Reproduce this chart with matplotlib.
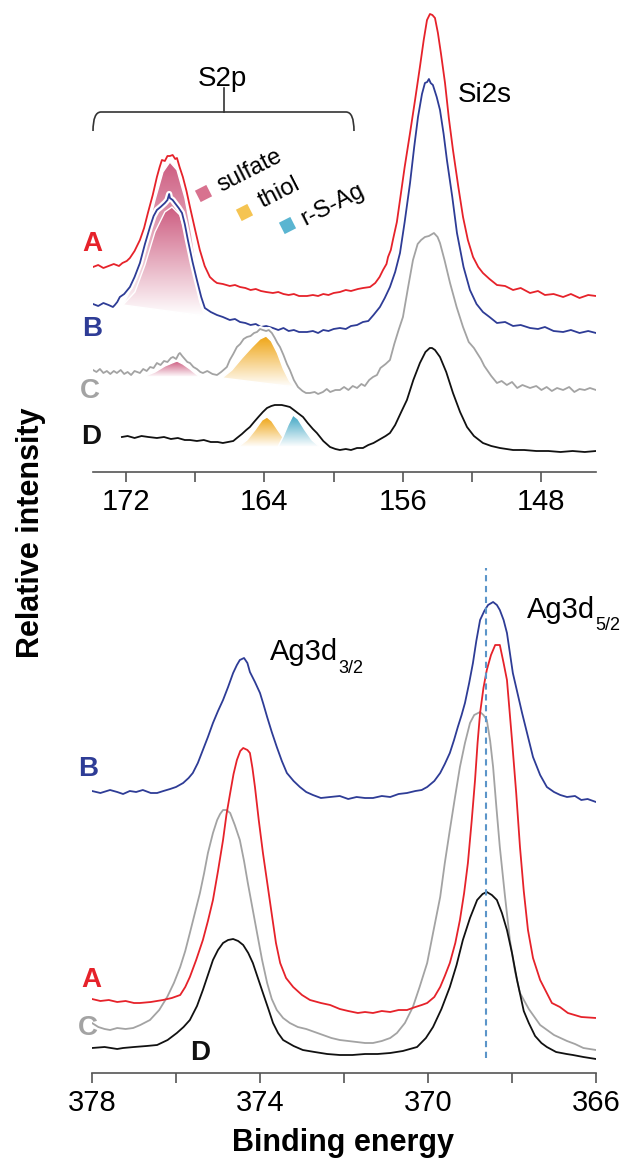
import numpy as np
import matplotlib
matplotlib.use('Agg')
import matplotlib.pyplot as plt
import matplotlib.patheffects as pe
from matplotlib.colors import LinearSegmentedColormap
from matplotlib.patches import Polygon, PathPatch
from matplotlib.path import Path

plt.rcParams['font.family'] = ['Liberation Sans', 'DejaVu Sans']

# ---- top panel: S2p / Si2s region, (binding energy, intensity) ----
top_A = [(173.9, 205), (173.6, 207), (173.3, 204), (173.0, 206), (172.7, 208), (172.4, 206), (172.2, 209),
         (171.95, 211), (171.77, 214), (171.5, 221), (171.19, 232), (170.95, 244), (170.73, 259), (170.45, 277),
         (170.21, 295), (170.05, 305), (169.92, 312), (169.75, 311), (169.6, 316), (169.46, 316), (169.3, 317),
         (169.15, 313), (169.05, 314), (168.9, 305), (168.71, 295), (168.5, 281), (168.3, 265), (168.0, 242),
         (167.73, 222), (167.45, 206), (167.15, 195), (166.9, 191), (166.74, 189), (166.4, 188), (166.0, 186),
         (165.7, 187), (165.41, 185), (165.1, 184), (164.8, 182), (164.5, 183), (164.2, 181), (163.9, 180),
         (163.51, 179), (163.2, 180), (162.9, 178), (162.6, 177), (162.3, 178), (162.0, 176), (161.54, 176),
         (161.2, 177), (160.9, 176), (160.6, 178), (160.3, 177), (160.0, 179), (159.64, 180), (159.3, 182),
         (159.0, 181), (158.6, 183), (158.3, 184), (157.9, 185), (157.6, 189), (157.35, 195), (157.15, 202),
         (156.95, 208), (156.86, 215), (156.7, 222), (156.58, 232), (156.35, 250), (156.17, 272), (155.9, 305),
         (155.59, 339), (155.3, 372), (155.02, 405), (154.8, 432), (154.61, 452), (154.44, 458), (154.3, 457),
         (154.15, 454), (153.98, 439), (153.8, 418), (153.57, 389), (153.35, 354), (153.11, 322), (152.8, 285),
         (152.53, 255), (152.25, 232), (151.95, 215), (151.65, 205), (151.38, 199), (151.0, 193), (150.57, 187),
         (150.1, 186), (149.64, 182), (149.2, 184), (148.66, 179), (148.2, 181), (147.8, 177), (147.3, 178),
         (146.75, 175), (146.3, 178), (145.8, 174), (145.3, 177), (144.85, 176)]

top_B = [(173.9, 168), (173.6, 166), (173.3, 169), (173.0, 167), (172.75, 165), (172.64, 167), (172.5, 170),
         (172.35, 175), (172.1, 178), (171.77, 185), (171.5, 195), (171.19, 209), (170.9, 228), (170.61, 245),
         (170.4, 256), (170.21, 262), (170.0, 265), (169.75, 269), (169.6, 272), (169.5, 278), (169.46, 274),
         (169.3, 272), (169.17, 269), (168.95, 264), (168.76, 259), (168.6, 248), (168.42, 232), (168.15, 210),
         (167.9, 192), (167.65, 175), (167.44, 164), (167.1, 160), (166.74, 157), (166.4, 155), (166.0, 152),
         (165.7, 153), (165.41, 150), (165.1, 149), (164.8, 147), (164.5, 148), (164.2, 145), (163.9, 146),
         (163.51, 144), (163.2, 142), (162.9, 144), (162.6, 141), (162.3, 142), (162.0, 140), (161.54, 140),
         (161.2, 141), (160.9, 139), (160.6, 142), (160.3, 141), (160.0, 143), (159.64, 144), (159.3, 143),
         (159.0, 146), (158.65, 147), (158.31, 150), (158.0, 151), (157.7, 157), (157.33, 165), (157.05, 174),
         (156.75, 185), (156.45, 200), (156.17, 219), (155.9, 250), (155.59, 289), (155.35, 325), (155.13, 355),
         (154.9, 378), (154.73, 389), (154.6, 390), (154.5, 393), (154.4, 389), (154.27, 387), (154.05, 375),
         (153.86, 362), (153.65, 338), (153.46, 312), (153.15, 275), (152.88, 239), (152.5, 205), (152.13, 182),
         (151.75, 168), (151.38, 160), (151.0, 155), (150.57, 149), (150.1, 150), (149.64, 146), (149.2, 147),
         (148.66, 144), (148.2, 143), (147.8, 145), (147.3, 141), (146.75, 140), (146.3, 142), (145.8, 139),
         (145.3, 141), (144.85, 139)]

top_C = [(173.9, 102), (173.7, 100), (173.5, 103), (173.3, 99), (173.1, 101), (172.9, 98), (172.7, 101),
         (172.52, 99), (172.3, 102), (172.1, 98), (171.9, 100), (171.7, 97), (171.5, 101), (171.19, 99),
         (171.0, 103), (170.8, 101), (170.6, 105), (170.4, 104), (170.21, 109), (170.0, 107), (169.8, 111),
         (169.6, 110), (169.4, 114), (169.28, 115), (169.1, 113), (168.95, 118), (168.88, 119), (168.75, 116),
         (168.6, 113), (168.45, 110), (168.3, 109), (168.1, 105), (167.9, 103), (167.7, 100), (167.55, 99),
         (167.3, 101), (167.0, 98), (166.74, 97), (166.5, 100), (166.3, 103), (166.17, 105), (166.0, 112),
         (165.8, 118), (165.59, 125), (165.4, 128), (165.2, 133), (165.01, 135), (164.8, 136), (164.6, 139),
         (164.43, 140), (164.25, 143), (164.09, 142), (163.9, 141), (163.75, 142), (163.57, 139), (163.4, 134),
         (163.25, 129), (163.1, 125), (162.9, 117), (162.7, 108), (162.53, 102), (162.3, 92), (162.06, 85),
         (161.8, 81), (161.6, 79), (161.37, 79), (161.1, 80), (160.9, 78), (160.62, 80), (160.4, 83), (160.2, 80),
         (159.9, 82), (159.64, 82), (159.4, 85), (159.15, 82), (158.9, 86), (158.65, 84), (158.4, 88), (158.2, 86),
         (157.95, 92), (157.73, 95), (157.5, 97), (157.3, 104), (157.0, 108), (156.75, 112), (156.5, 128),
         (156.25, 142), (156.0, 155), (155.7, 185), (155.42, 212), (155.15, 228), (154.95, 232), (154.73, 235),
         (154.5, 236), (154.21, 239), (154.0, 235), (153.86, 229), (153.6, 212), (153.28, 189), (152.9, 165),
         (152.53, 145), (152.2, 130), (151.9, 124), (151.72, 119), (151.5, 113), (151.3, 106), (151.1, 101),
         (150.9, 96), (150.57, 89), (150.3, 91), (150.0, 87), (149.7, 90), (149.4, 84), (149.1, 87), (148.66, 84),
         (148.3, 86), (148.0, 82), (147.7, 85), (147.4, 81), (147.1, 84), (146.75, 82), (146.4, 85), (146.1, 80),
         (145.8, 83), (145.5, 82), (145.2, 84), (144.85, 82)]

top_D = [(172.23, 35), (171.9, 36), (171.5, 34), (171.1, 36), (170.7, 35), (170.21, 34), (169.8, 35),
         (169.4, 33), (169.0, 34), (168.6, 32), (168.3, 32), (167.9, 31), (167.5, 32), (167.1, 30), (166.7, 30),
         (166.4, 29), (166.1, 30), (165.8, 31), (165.59, 34), (165.3, 38), (165.05, 42), (164.84, 45), (164.6, 50),
         (164.35, 55), (164.09, 60), (163.85, 64), (163.6, 66), (163.4, 67), (163.28, 67), (163.0, 67),
         (162.75, 66), (162.53, 65), (162.3, 62), (162.0, 58), (161.77, 55), (161.5, 49), (161.2, 43),
         (160.97, 39), (160.6, 31), (160.21, 25), (159.9, 23), (159.64, 22), (159.3, 23), (159.0, 22),
         (158.65, 24), (158.31, 24), (158.0, 27), (157.7, 29), (157.3, 33), (157.0, 36), (156.75, 39),
         (156.45, 47), (156.1, 60), (155.77, 72), (155.4, 92), (155.02, 109), (154.7, 120), (154.45, 124),
         (154.32, 124), (154.15, 122), (153.86, 115), (153.5, 100), (153.11, 79), (152.7, 60), (152.3, 45),
         (151.9, 36), (151.38, 29), (150.9, 26), (150.4, 24), (149.64, 22), (149.0, 22), (148.3, 21),
         (147.6, 21), (146.9, 20), (146.2, 21), (145.5, 20), (144.85, 21)]

# fitted S2p components (outline points)
fit_sulfate_A = [(172.17, 167), (171.48, 192), (170.9, 232), (170.32, 272), (169.86, 300), (169.46, 310),
                 (169.05, 302), (168.59, 274), (168.19, 237), (167.84, 197), (167.44, 156)]
fit_sulfate_B = [(172.17, 167), (171.48, 180), (170.9, 207), (170.32, 240), (169.75, 260), (169.34, 265),
                 (168.88, 257), (168.42, 230), (168.01, 194), (167.73, 170), (167.44, 156)]
fit_sulfate_C = [(171.02, 95), (170.32, 100), (169.75, 106), (169.34, 109), (169.05, 111), (168.71, 108),
                 (168.3, 103), (167.73, 95)]
fit_thiol_C = [(166.45, 94), (165.88, 102), (165.3, 114), (164.72, 125), (164.26, 133), (163.9, 136),
               (163.6, 131), (163.25, 119), (162.9, 103), (162.55, 91), (162.24, 85)]
fit_thiol_D = [(165.53, 25), (165.01, 32), (164.55, 42), (164.14, 52), (163.85, 55), (163.57, 51),
               (163.22, 42), (162.82, 32), (162.35, 25)]
fit_rsag_D = [(163.22, 25), (162.93, 35), (162.64, 47), (162.35, 57), (162.06, 53), (161.66, 42),
              (161.25, 32), (160.79, 25)]

# ---- bottom panel: Ag3d region ----
bot_B = [(378.0, 282), (377.8, 280), (377.57, 283), (377.4, 281), (377.26, 279), (377.1, 282), (376.95, 281),
         (376.79, 283), (376.6, 280), (376.45, 280), (376.3, 282), (376.14, 284), (376.0, 286), (375.83, 290),
         (375.7, 295), (375.6, 300), (375.48, 310), (375.36, 323), (375.24, 336), (375.12, 350), (375.0, 362),
         (374.88, 373), (374.76, 386), (374.64, 400), (374.55, 408), (374.48, 413), (374.38, 415), (374.3, 410),
         (374.24, 401), (374.12, 391), (374.0, 380), (373.92, 369), (373.83, 356), (373.72, 341), (373.6, 326),
         (373.48, 312), (373.36, 300), (373.2, 292), (373.05, 286), (372.9, 281), (372.74, 278), (372.55, 275),
         (372.33, 276), (372.1, 277), (371.9, 274), (371.7, 276), (371.5, 275), (371.31, 275), (371.1, 277),
         (370.9, 276), (370.7, 279), (370.5, 280), (370.3, 282), (370.15, 283), (370.02, 286), (369.85, 292),
         (369.71, 300), (369.6, 309), (369.48, 320), (369.38, 333), (369.29, 346), (369.2, 358), (369.12, 370),
         (369.02, 390), (368.93, 410), (368.85, 432), (368.76, 453), (368.66, 462), (368.57, 468), (368.45, 471),
         (368.36, 468), (368.29, 463), (368.2, 453), (368.12, 440), (368.05, 420), (367.98, 400), (367.87, 380),
         (367.76, 360), (367.63, 338), (367.5, 316), (367.33, 298), (367.17, 286), (367.0, 281), (366.85, 278),
         (366.69, 276), (366.5, 277), (366.35, 273), (366.2, 274), (366.0, 271)]

bot_A = [(378.0, 74), (377.8, 72), (377.6, 73), (377.4, 71), (377.2, 72), (377.0, 70), (376.86, 70),
         (376.6, 71), (376.31, 73), (376.1, 75), (375.9, 78), (375.78, 86), (375.67, 96), (375.52, 113),
         (375.36, 133), (375.24, 152), (375.12, 173), (375.0, 202), (374.88, 233), (374.8, 258), (374.71, 280),
         (374.63, 299), (374.55, 313), (374.47, 322), (374.4, 325), (374.3, 323), (374.24, 320), (374.18, 305),
         (374.12, 286), (374.03, 253), (373.93, 220), (373.82, 188), (373.71, 156), (373.62, 130), (373.52, 110),
         (373.38, 95), (373.21, 86), (373.0, 78), (372.81, 73), (372.55, 70), (372.33, 68), (372.1, 64),
         (371.9, 62), (371.67, 60), (371.5, 61), (371.31, 60), (371.1, 62), (370.9, 61), (370.7, 63), (370.5, 63),
         (370.3, 66), (370.15, 68), (370.02, 70), (369.85, 76), (369.71, 86), (369.6, 97), (369.48, 110),
         (369.35, 130), (369.24, 153), (369.14, 180), (369.05, 210), (368.96, 252), (368.88, 293), (368.82, 330),
         (368.76, 360), (368.68, 385), (368.6, 403), (368.5, 418), (368.4, 428), (368.29, 428), (368.2, 410),
         (368.12, 393), (368.06, 363), (368.0, 333), (367.9, 280), (367.81, 226), (367.72, 182), (367.62, 143),
         (367.5, 115), (367.33, 93), (367.05, 70), (366.86, 66), (366.67, 60), (366.35, 56), (366.0, 55)]

bot_C = [(378.0, 50), (377.85, 46), (377.7, 44), (377.57, 43), (377.4, 45), (377.2, 44), (377.02, 45),
         (376.85, 48), (376.62, 53), (376.4, 63), (376.21, 76), (376.05, 90), (375.9, 106), (375.78, 122),
         (375.67, 140), (375.55, 160), (375.43, 180), (375.33, 200), (375.24, 220), (375.12, 240), (375.02, 253),
         (374.95, 259), (374.88, 263), (374.8, 263), (374.71, 260), (374.6, 248), (374.48, 233), (374.38, 212),
         (374.29, 190), (374.18, 165), (374.07, 140), (373.95, 113), (373.83, 90), (373.72, 74), (373.6, 63),
         (373.45, 55), (373.29, 50), (373.1, 46), (372.9, 44), (372.7, 41), (372.5, 38), (372.3, 35), (372.1, 33),
         (371.9, 32), (371.7, 31), (371.5, 30), (371.31, 30), (371.1, 32), (370.9, 35), (370.74, 40),
         (370.55, 50), (370.36, 66), (370.2, 86), (370.02, 110), (369.88, 140), (369.71, 176), (369.6, 210),
         (369.48, 243), (369.36, 275), (369.24, 306), (369.12, 330), (369.0, 350), (368.9, 358), (368.76, 361),
         (368.68, 358), (368.6, 353), (368.52, 332), (368.45, 306), (368.37, 265), (368.29, 226), (368.17, 178),
         (368.05, 133), (367.93, 102), (367.81, 80), (367.6, 64), (367.33, 48), (367.0, 38), (366.69, 32),
         (366.5, 29), (366.3, 25), (366.15, 24), (366.0, 23)]

bot_D = [(378.0, 25), (377.7, 26), (377.4, 24), (377.26, 25), (377.0, 26), (376.7, 27), (376.45, 28),
         (376.2, 33), (375.98, 40), (375.82, 46), (375.67, 53), (375.5, 67), (375.36, 83), (375.24, 98),
         (375.12, 113), (375.0, 123), (374.88, 130), (374.76, 133), (374.64, 134), (374.52, 132), (374.4, 128),
         (374.28, 120), (374.17, 110), (374.05, 95), (373.93, 80), (373.8, 64), (373.69, 50), (373.57, 40),
         (373.45, 33), (373.2, 27), (372.98, 23), (372.7, 21), (372.4, 19), (372.1, 18), (371.8, 18), (371.5, 19),
         (371.2, 19), (370.9, 20), (370.6, 22), (370.26, 26), (370.05, 35), (369.88, 46), (369.68, 64),
         (369.48, 86), (369.32, 108), (369.17, 133), (369.0, 155), (368.83, 173), (368.7, 179), (368.6, 181),
         (368.48, 178), (368.36, 173), (368.24, 160), (368.12, 143), (368.0, 120), (367.88, 93), (367.72, 62),
         (367.6, 50), (367.45, 37), (367.3, 30), (367.17, 26), (366.95, 21), (366.7, 19), (366.55, 18),
         (366.3, 16), (366.0, 14)]

ag_ref_be = 368.62          # dashed reference line
ag_ref_span = (15, 505)

top_ticks = [172, 168, 164, 160, 156, 152, 148]
top_labels = ['172', '', '164', '', '156', '', '148']
bot_ticks = [378, 376, 374, 372, 370, 368, 366]
bot_labels = ['378', '', '374', '', '370', '', '366']

RED, BLUE, GRAY, BLACK = '#e6222a', '#2e3c96', '#a3a3a3', '#111111'
C_SULF, C_THIOL, C_RSAG = '#cd5c80', '#efa515', '#3fa6c4'

W, H = 625, 1165
fig = plt.figure(figsize=(W / 100, H / 100), dpi=100)
ax1 = fig.add_axes([93 / W, 1 - 472 / H, 503 / W, 472 / H])
ax2 = fig.add_axes([92 / W, 1 - 1073 / H, 504 / W, 513 / H])


def grad_fill(ax, pts, color, z):
    pts = np.array(pts)
    poly = Polygon(pts, closed=True, facecolor='none', edgecolor='white', lw=1.0, zorder=z + 0.1)
    ax.add_patch(poly)
    cmap = LinearSegmentedColormap.from_list('g', ['white', color])
    grad = np.linspace(0, 1, 256).reshape(-1, 1)
    im = ax.imshow(grad, extent=[pts[:, 0].max(), pts[:, 0].min(), pts[:, 1].min(), pts[:, 1].max()],
                   origin='lower', cmap=cmap, aspect='auto', zorder=z, interpolation='bilinear')
    im.set_clip_path(poly)


grad_fill(ax1, fit_sulfate_A, C_SULF, 1)
grad_fill(ax1, fit_sulfate_B, C_SULF, 1.3)
grad_fill(ax1, fit_sulfate_C, C_SULF, 1)
grad_fill(ax1, fit_thiol_C, C_THIOL, 1)
grad_fill(ax1, fit_thiol_D, C_THIOL, 1)
grad_fill(ax1, fit_rsag_D, C_RSAG, 1.3)

halo = [pe.withStroke(linewidth=4.5, foreground='white')]
for curve, col in [(top_A, RED), (top_B, BLUE), (top_C, GRAY), (top_D, BLACK)]:
    x, y = np.array(curve).T
    ax1.plot(x, y, color=col, lw=1.3, path_effects=halo, zorder=3, solid_joinstyle='round')

for curve, col in [(bot_B, BLUE), (bot_C, GRAY), (bot_A, RED), (bot_D, BLACK)]:
    x, y = np.array(curve).T
    ax2.plot(x, y, color=col, lw=1.3, zorder=3, solid_joinstyle='round')

ax2.vlines(ag_ref_be, *ag_ref_span, colors='#5b95c9', lw=1.5, linestyles=(0, (3, 2.2)), zorder=4)


def style(ax, ticks, labels, xlim, ylim):
    for s in ['top', 'right', 'left']:
        ax.spines[s].set_visible(False)
    ax.spines['bottom'].set_color('#555555')
    ax.spines['bottom'].set_linewidth(1.2)
    ax.set_yticks([])
    ax.set_xticks(ticks)
    ax.set_xticklabels(labels)
    ax.tick_params(axis='x', direction='out', length=7.5, width=1.2, color='#555555',
                   labelsize=21, pad=4)
    ax.set_xlim(*xlim)
    ax.set_ylim(*ylim)
    ax.patch.set_alpha(0)


style(ax1, top_ticks, top_labels, (173.9, 144.85), (0, 472))
style(ax2, bot_ticks, bot_labels, (378, 366), (0, 513))

# overlay in pixel units for annotations
ov = fig.add_axes([0, 0, 1, 1])
ov.set_xlim(0, W)
ov.set_ylim(H, 0)
ov.axis('off')
ov.patch.set_visible(False)

# sample labels
for txt, x, y, col in [('A', 102, 244, RED), ('B', 102, 329, BLUE), ('C', 100, 391, GRAY), ('D', 101, 437, BLACK),
                       ('B', 98, 769, BLUE), ('A', 101, 980, RED), ('C', 98, 1028, GRAY)]:
    ov.text(x, y, txt, color=col, fontsize=20, fontweight='bold', ha='right', va='center')
ov.text(200, 1053, 'D', color=BLACK, fontsize=20, fontweight='bold', ha='center', va='center')

# S2p bracket
verts = [(93, 131), (93, 112), (101, 112), (346, 112), (354, 112), (354, 131)]
codes = [Path.MOVETO, Path.CURVE3, Path.CURVE3, Path.LINETO, Path.CURVE3, Path.CURVE3]
ov.add_patch(PathPatch(Path(verts, codes), facecolor='none', edgecolor='#333333', lw=1.2))
ov.plot([224, 224], [112, 88], color='#333333', lw=1.2)
ov.text(222, 86, 'S2p', fontsize=20, ha='center', va='baseline')
ov.text(458, 102, 'Si2s', fontsize=20, ha='left', va='baseline')

# rotated legend
ang = 27
for txt, sq, tc, col in [('sulfate', (203, 193), (250, 171), '#d8728f'),
                         ('thiol', (244, 212), (279, 193), '#f5c452'),
                         ('r-S-Ag', (287, 225), (333, 205), '#5ab5d1')]:
    ov.plot(*sq, marker=(4, 0, 45 + ang), ms=13, color=col, mec='none')
    ov.text(*tc, txt, fontsize=17, rotation=ang, rotation_mode='anchor', ha='center', va='center')

# Ag3d labels
ov.text(270, 660, 'Ag3d', fontsize=21, ha='left', va='baseline')
ov.text(338, 673, '3/2', fontsize=13, ha='left', va='baseline')
ov.text(527, 618, 'Ag3d', fontsize=21, ha='left', va='baseline')
ov.text(595, 630, '5/2', fontsize=13, ha='left', va='baseline')

ov.text(31, 533, 'Relative intensity', fontsize=22, fontweight='bold', rotation=90, ha='center', va='center')
ov.text(343, 1151, 'Binding energy', fontsize=22, fontweight='bold', ha='center', va='baseline')

fig.savefig('out.png', dpi=100)
